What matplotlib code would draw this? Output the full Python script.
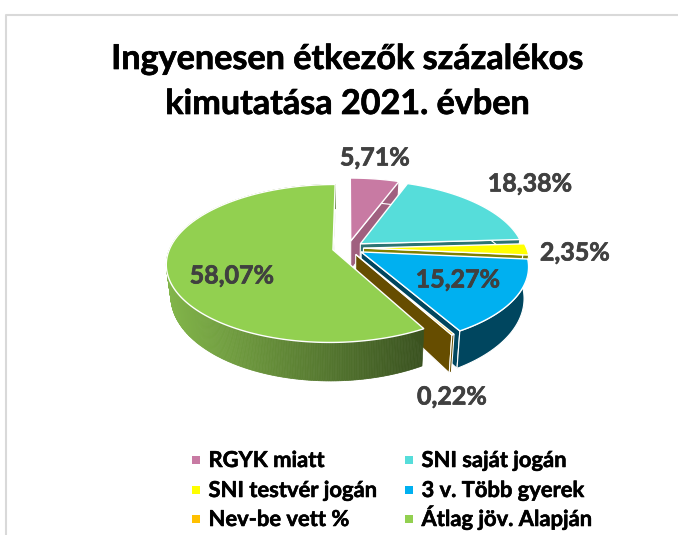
import numpy as np
import matplotlib
matplotlib.use("Agg")
import matplotlib.pyplot as plt
import matplotlib.patheffects as pe
from matplotlib.colors import to_rgb

categories = ["RGYK miatt", "SNI saját jogán", "SNI testvér jogán",
              "3 v. Több gyerek", "Nev-be vett %", "Átlag jöv. Alapján"]
values = [5.71, 18.38, 2.35, 15.27, 0.22, 58.07]
colors = ["#C87AA3", "#56DDDA", "#FFFF00", "#00B0F0", "#FFC000", "#92D050"]
side_colors = ["#A0607F", "#2C7472", "#808000", "#00465F", "#664D00", "#3A5220"]
label_xy = [(375, 158), (530, 184), (575, 253), (458, 280), (452, 397), (232, 276)]

CX, CY = 348, 248
RX, RY, PERSP = 163, 76, 0.172
EXPLODE = 0.095
FONT = ["Lato", "DejaVu Sans"]

# legend layout, two columns of three rows
LEG_X = [192, 405]
LEG_Y = [467, 497, 526]


def project(u, v):
    s = 1 / (1 + PERSP * v)
    return CX + RX * u * s, CY - RY * v * s


def lower(x, y):
    # bottom rim of the pie, a bit narrower and shifted down
    return CX + (x - CX) * 0.975, CY + 30 + (y - CY) * 1.09


def slice_points(a0, a1):
    mid = np.radians((a0 + a1) / 2)
    du, dv = EXPLODE * np.sin(mid), EXPLODE * np.cos(mid)
    t = np.radians(np.linspace(a0, a1, max(int(a1 - a0) * 2, 3)))
    rim_x, rim_y = project(du + np.sin(t), dv + np.cos(t))
    ax0, ay0 = project(du, dv)
    return ax0, ay0, rim_x, rim_y


def heavy(color, width):
    # Calibri bold is heavier than Lato bold
    return [pe.withStroke(linewidth=width, foreground=color)]


fig = plt.figure(figsize=(6.78, 5.35), dpi=100)
ax = fig.add_axes([0, 0, 1, 1])
ax.set_xlim(0, 678)
ax.set_ylim(535, 0)
ax.axis("off")

# frame of the original chart, only top and left are in the crop
ax.plot([678, 6, 6], [15, 15, 535], color="#D9D9D9", lw=1.5)

# slices are painted in list order, back to front
edges = np.cumsum([0] + values) * 3.6
for i in range(len(values)):
    a0, a1 = edges[i], edges[i + 1]
    ax0, ay0, rim_x, rim_y = slice_points(a0, a1)
    bot_x, bot_y = lower(rim_x, rim_y)
    bx0, by0 = lower(ax0, ay0)

    # cut face at the clockwise end
    ax.fill([ax0, rim_x[-1], bot_x[-1], bx0], [ay0, rim_y[-1], bot_y[-1], by0],
            facecolor=side_colors[i], edgecolor="white", lw=0.8)

    # outer rim
    if i == 5:
        light = np.array(to_rgb("#82B54A"))
        dark = np.array(to_rgb(side_colors[i]))
        for k in range(len(rim_x) - 1):
            frac = np.clip((rim_x[k] - rim_x.min()) / (rim_x.max() - rim_x.min()), 0, 1)
            if rim_x[k] < CX - 100:
                frac = 0.0 if rim_y[k] < CY + 30 else frac
            col = light + (dark - light) * frac
            ax.fill([rim_x[k], rim_x[k + 1], bot_x[k + 1], bot_x[k]],
                    [rim_y[k], rim_y[k + 1], bot_y[k + 1], bot_y[k]],
                    facecolor=col, edgecolor=col, lw=0.5)
    else:
        ax.fill(np.r_[rim_x, bot_x[::-1]], np.r_[rim_y, bot_y[::-1]],
                facecolor=side_colors[i], edgecolor="white", lw=0.8)

    # top face
    ax.fill(np.r_[ax0, rim_x], np.r_[ay0, rim_y],
            facecolor=colors[i], edgecolor="white", lw=1.0)

for v, (x, y) in zip(values, label_xy):
    ax.text(x, y, f"{v:.2f}%".replace(".", ","), ha="center", va="center",
            fontsize=18, fontweight="bold", color="#404040", family=FONT, zorder=5,
            path_effects=heavy("#404040", 0.5))

ax.text(347.5, 59, "Ingyenesen étkezők százalékos", ha="center", va="center",
        fontsize=24.6, fontweight="bold", color="black", family=FONT,
        path_effects=heavy("black", 0.5))
ax.text(347.5, 104, "kimutatása 2021. évben", ha="center", va="center",
        fontsize=24.6, fontweight="bold", color="black", family=FONT,
        path_effects=heavy("black", 0.5))

# legend: filled row by row, so it is placed by hand
for n, (name, col) in enumerate(zip(categories, colors)):
    lx, ly = LEG_X[n % 2], LEG_Y[n // 2]
    ax.scatter([lx + 4], [ly - 7], marker="s", s=33, color=col, linewidths=0)
    ax.text(lx + 16.5, ly, name, ha="left", va="baseline", fontsize=15.8,
            fontweight="bold", color="black", family=FONT,
            path_effects=heavy("black", 0.4))

fig.savefig("out.png", dpi=100)
